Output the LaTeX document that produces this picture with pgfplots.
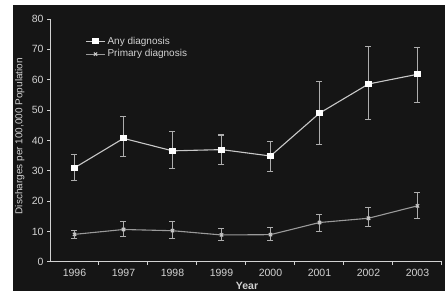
\documentclass[border=0pt]{standalone}
\usepackage{fontspec}
\setmainfont{Liberation Sans}
\usepackage{pgfplots}
\pgfplotsset{compat=1.18}
\definecolor{bg}{HTML}{151515}
\definecolor{txt}{HTML}{D2D2D2}
\definecolor{lineA}{HTML}{C8C8C8}
\definecolor{lineB}{HTML}{9A9A9A}
\definecolor{errc}{HTML}{ADADAD}
\pgfplotstableread{
x y ep em
1996 31.0 4.4 4.3
1997 40.7 7.1 6.1
1998 36.6 6.5 5.7
1999 37.0 4.8 4.8
2000 34.9 4.7 5.1
2001 49.0 10.5 10.2
2002 58.6 12.4 11.6
2003 61.8 8.9 9.2
}\anyd
\pgfplotstableread{
x y ep em
1996 9.1 1.4 1.5
1997 10.7 2.6 2.4
1998 10.3 2.9 2.6
1999 8.9 2.1 1.7
2000 9.0 2.3 2.0
2001 13.0 2.5 3.1
2002 14.4 3.5 2.6
2003 18.5 4.4 4.3
}\primd
\begin{document}
\begin{tikzpicture}[x=1pt,y=1pt]
\useasboundingbox (0,0) rectangle (445,291);
\fill[white] (0,0) rectangle (445,291);
\fill[bg] (13,0) rectangle (445,286);
\begin{axis}[
  at={(50pt,29pt)}, anchor=south west, scale only axis,
  width=392pt, height=243pt,
  xmin=1995.5, xmax=2003.5, ymin=0, ymax=80,
  axis x line*=bottom, axis y line*=left,
  axis line style={-, txt, line width=1pt},
  every tick/.style={txt, line width=1pt},
  tick align=outside, major tick length=3pt,
  xtick={1996.5,1997.5,...,2003.5}, xticklabels={},
  extra x ticks={1996,1997,...,2003},
  extra x tick style={major tick length=0pt},
  xticklabel style={yshift=-4pt},
  ytick={0,10,...,80},
  /pgf/number format/1000 sep={},
  /pgf/number format/assume math mode=true,
  tick label style={font=\fontsize{10.5}{12}\selectfont, text=txt},
  ylabel={Discharges per 100,000 Population},
  ylabel style={at={(axis description cs:-0.077,0.518)}, anchor=center, font=\fontsize{10}{12}\selectfont, text=txt},
  xlabel={Year},
  xlabel style={at={(axis description cs:0.5026,-0.097)}, anchor=center, font=\bfseries\fontsize{10.5}{12}\selectfont, text=txt},
  legend style={draw=none, fill=none, at={(0.09,0.935)}, anchor=north west,
    inner sep=0pt, font=\fontsize{10}{11}\selectfont, text=txt,
    row sep=0pt, nodes={inner sep=2pt}},
  legend cell align=left,
  legend image code/.code={\draw[mark repeat=2,mark phase=2,#1] plot coordinates {(0pt,0pt) (9.5pt,0pt) (19pt,0pt)};},
  clip=false,
]
\addplot[lineA, line width=1.1pt, mark=square*, mark size=2.5pt,
  mark options={fill=white, draw=white, solid},
  error bars/.cd, y dir=both, y explicit,
  error bar style={errc, line width=1.1pt},
  error mark options={errc, rotate=90, mark size=3pt, line width=1.1pt}]
  table[x=x, y=y, y error plus=ep, y error minus=em] {\anyd};
\addlegendentry{Any diagnosis}
\addplot[lineB, line width=1.1pt, mark=x, mark size=2.3pt,
  mark options={draw=lineA, solid},
  error bars/.cd, y dir=both, y explicit,
  error bar style={errc, line width=1.1pt},
  error mark options={errc, rotate=90, mark size=3pt, line width=1.1pt}]
  table[x=x, y=y, y error plus=ep, y error minus=em] {\primd};
\addlegendentry{Primary diagnosis}
\end{axis}
\end{tikzpicture}
\end{document}
